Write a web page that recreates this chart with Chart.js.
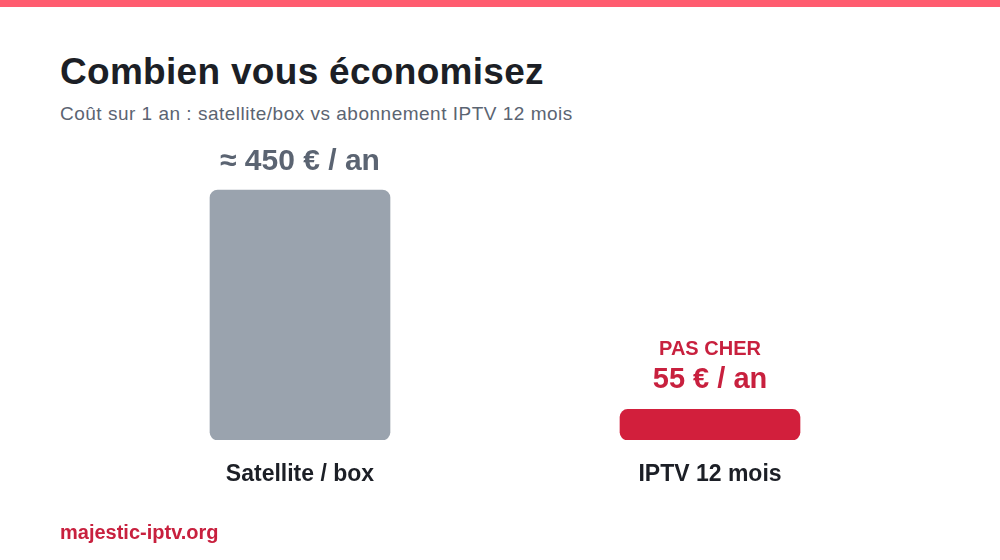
<!DOCTYPE html>
<html><head><meta charset="utf-8">
<script src="https://cdn.jsdelivr.net/npm/chart.js@4"></script>
<style>
body{margin:0;width:1000px;height:560px;background:#fff;font-family:"Liberation Sans",Arial,sans-serif;position:relative;overflow:hidden}
#stripe{position:absolute;left:0;top:0;width:1000px;height:7px;background:#ff5c6f}
#title{position:absolute;left:60px;top:51px;font-size:37px;font-weight:bold;color:#1c1f26;letter-spacing:0.3px}
#sub{position:absolute;left:60px;top:103px;font-size:19px;color:#5b6472;letter-spacing:0.5px}
#foot{position:absolute;left:60px;top:521px;font-size:20px;font-weight:bold;color:#c8203e}
#wrap{position:absolute;left:0;top:0;width:1000px;height:560px}
</style></head><body>
<div id="stripe"></div>
<div id="title">Combien vous économisez</div>
<div id="sub">Coût sur 1 an : satellite/box vs abonnement IPTV 12 mois</div>
<div id="wrap"><canvas id="c" width="1000" height="560"></canvas></div>
<div id="foot">majestic-iptv.org</div>
<script>
const categories=["Satellite / box","IPTV 12 mois"];
const values=[450,55];
const valueLabels=["≈ 450 € / an","55 € / an"];
const tags=["","PAS CHER"];
const colors=["#9aa3ae","#d21f3c"];
const labelColors=["#5b6472","#c8203e"];
const labelPlugin={id:"lbl",afterDatasetsDraw(chart){
  const ctx=chart.ctx;const meta=chart.getDatasetMeta(0);
  ctx.save();ctx.textAlign="center";ctx.textBaseline="middle";
  meta.data.forEach((b,i)=>{
    ctx.fillStyle=labelColors[i];
    if(tags[i]){
      ctx.font="bold 29px 'Liberation Sans',Arial";ctx.fillText(valueLabels[i],b.x,b.y-29);
      ctx.font="bold 20px 'Liberation Sans',Arial";ctx.fillText(tags[i],b.x,b.y-60);
    }else{
      ctx.font="bold 30px 'Liberation Sans',Arial";ctx.fillText(valueLabels[i],b.x,b.y-28);
    }
  });ctx.restore();}};
new Chart(document.getElementById("c"),{type:"bar",
 data:{labels:categories,datasets:[{data:values,backgroundColor:colors,borderRadius:8,borderSkipped:false,barThickness:180}]},
 options:{responsive:false,animation:false,
  layout:{padding:{left:95,right:85,top:140,bottom:0}},
  plugins:{legend:{display:false},tooltip:{enabled:false}},
  scales:{y:{display:false,min:0,max:540},
   x:{grid:{display:false},border:{display:false},
    ticks:{padding:13,color:"#1c1f26",font:{family:"'Liberation Sans',Arial",size:23,weight:"bold"}},
    afterFit(s){s.height=120;}}}},
 plugins:[labelPlugin]});
</script>
</body></html>
